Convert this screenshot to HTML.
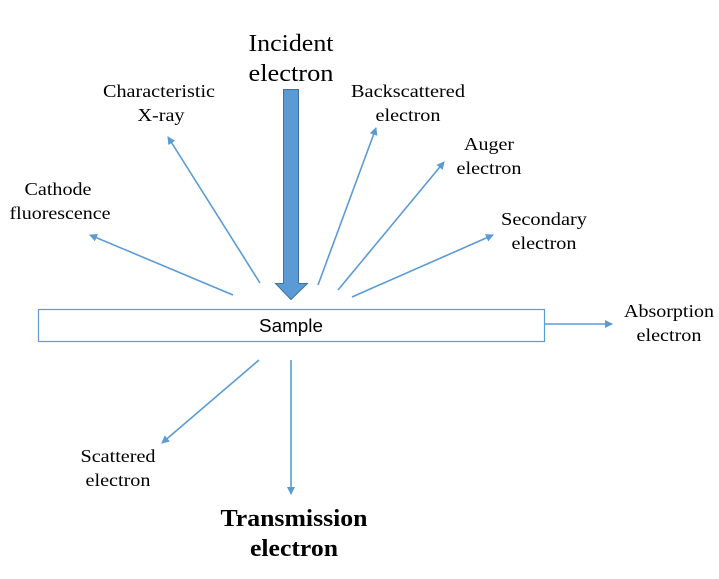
<!DOCTYPE html>
<html><head><meta charset="utf-8"><style>
body{margin:0;background:#fff;width:719px;height:574px;overflow:hidden}
svg text{font-family:"Liberation Serif",serif;fill:#000}
</style></head><body>
<svg width="719" height="574" viewBox="0 0 719 574" xmlns="http://www.w3.org/2000/svg">
<defs><marker id="a" markerWidth="8" markerHeight="8" refX="7" refY="4" orient="auto" markerUnits="userSpaceOnUse"><path d="M0,0 L8,4 L0,8 Z" fill="#5b9bd5"/></marker></defs>
<g stroke="#5b9bd5" stroke-width="1.6" fill="none" marker-end="url(#a)">
<line x1="260" y1="283" x2="168" y2="137"/>
<line x1="233" y1="295" x2="90" y2="235"/>
<line x1="318" y1="285" x2="376" y2="128"/>
<line x1="338" y1="290" x2="444" y2="162"/>
<line x1="352" y1="297" x2="493" y2="235"/>
<line x1="544" y1="324" x2="612" y2="324"/>
<line x1="259" y1="360" x2="162" y2="443"/>
<line x1="291" y1="360" x2="291" y2="494"/>
</g>
<path d="M283.5,89.5 H298.5 V283.5 H307.5 L291,299.5 L275.5,283.5 H283.5 Z" fill="#5b9bd5" stroke="#41719c" stroke-width="1"/>
<rect x="38.5" y="309.5" width="506" height="32" fill="#fff" stroke="#5b9bd5" stroke-width="1.2"/>
<text x="291" y="332" text-anchor="middle" style="font-family:'Liberation Sans',sans-serif;font-size:18px" textLength="64" lengthAdjust="spacingAndGlyphs">Sample</text>
<g font-size="18" text-anchor="middle">
<text x="159" y="97" textLength="112" lengthAdjust="spacingAndGlyphs">Characteristic</text><text x="161" y="121" textLength="47" lengthAdjust="spacingAndGlyphs">X-ray</text>
<text x="58" y="195" textLength="67" lengthAdjust="spacingAndGlyphs">Cathode</text><text x="60" y="219" textLength="101" lengthAdjust="spacingAndGlyphs">fluorescence</text>
<text x="408" y="97" textLength="114" lengthAdjust="spacingAndGlyphs">Backscattered</text><text x="408" y="121" textLength="65" lengthAdjust="spacingAndGlyphs">electron</text>
<text x="489" y="150" textLength="50" lengthAdjust="spacingAndGlyphs">Auger</text><text x="489" y="174" textLength="65" lengthAdjust="spacingAndGlyphs">electron</text>
<text x="544" y="225" textLength="86" lengthAdjust="spacingAndGlyphs">Secondary</text><text x="544" y="249" textLength="65" lengthAdjust="spacingAndGlyphs">electron</text>
<text x="669" y="317" textLength="90" lengthAdjust="spacingAndGlyphs">Absorption</text><text x="669" y="341" textLength="65" lengthAdjust="spacingAndGlyphs">electron</text>
<text x="118" y="462" textLength="75" lengthAdjust="spacingAndGlyphs">Scattered</text><text x="118" y="486" textLength="65" lengthAdjust="spacingAndGlyphs">electron</text>
</g>
<g font-size="24" text-anchor="middle">
<text x="291" y="51" textLength="85" lengthAdjust="spacingAndGlyphs">Incident</text><text x="291" y="81" textLength="85" lengthAdjust="spacingAndGlyphs">electron</text>
</g>
<g font-size="24" font-weight="bold" text-anchor="middle">
<text x="294" y="526" textLength="147" lengthAdjust="spacingAndGlyphs">Transmission</text><text x="294" y="556" textLength="88" lengthAdjust="spacingAndGlyphs">electron</text>
</g>
</svg>
</body></html>
